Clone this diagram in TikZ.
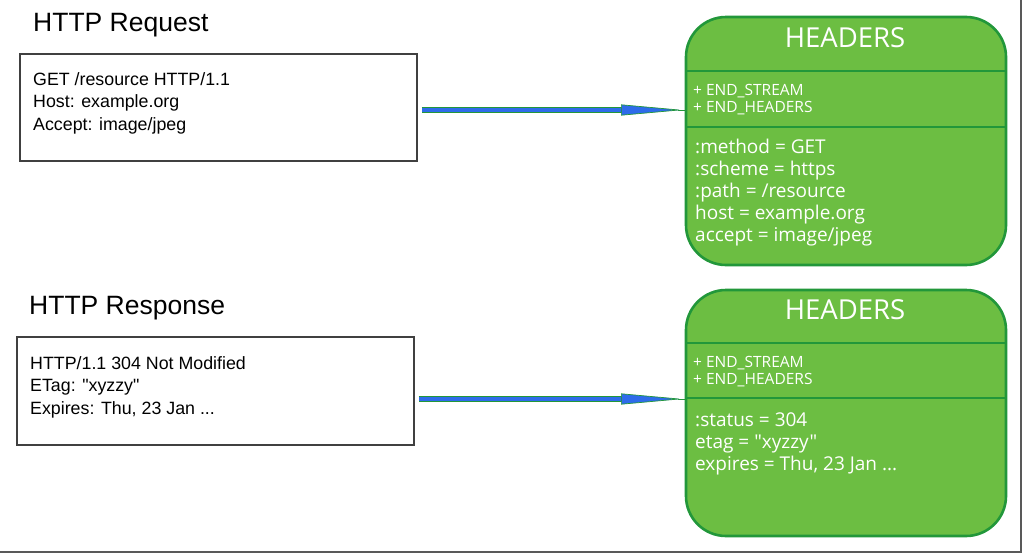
\documentclass[tikz,border=0pt]{standalone}
\usepackage{fontspec}
\setmainfont{Liberation Sans}
\newfontfamily\msgfont{Liberation Sans}
\newfontfamily\uifont{Open Sans}
\usepackage{tikz}
\usetikzlibrary{arrows.meta,positioning}
\definecolor{hdrgreen}{HTML}{6CBE42}
\definecolor{hdredge}{HTML}{22973A}
\definecolor{arrblue}{HTML}{2E6BEA}
\tikzset{
	msg_box/.style = {rectangle, draw=black!75, line width=1.2pt,
		minimum width=397pt, inner sep=0pt},% boite requete / reponse
	msg_title/.style = {anchor=base west, inner sep=0pt, font=\msgfont\fontsize{26.5}{30}\selectfont},
	msg_txt/.style = {anchor=west, align=left, inner sep=0pt,
		font=\msgfont\fontsize{17.8}{22.5}\selectfont},
	hdr_box/.style = {rectangle, rounded corners=40pt, fill=hdrgreen,
		draw=hdredge, line width=2.6pt, minimum width=320pt, inner sep=0pt},% trame HEADERS
	hdr_line/.style = {draw=hdredge, line width=1.6pt},
	hdr_title/.style = {white, inner sep=0pt, font=\uifont\fontsize{27.5}{30}\selectfont},
	hdr_flag/.style = {white, anchor=west, align=left, inner sep=0pt,
		font=\uifont\fontsize{15.5}{17.5}\selectfont},
	hdr_txt/.style = {white, anchor=west, align=left, inner sep=0pt,
		font=\uifont\fontsize{19}{22}\selectfont},
	arr_edge/.style = {draw=hdredge, line width=5.8pt},
	arr_core/.style = {draw=arrblue, line width=4pt,
		-{Triangle[length=62pt,width=11pt,fill=arrblue,color=hdredge,line width=0.7pt]}}
}

\begin{document}
\begin{tikzpicture}[x=1pt,y=-1pt]
\useasboundingbox (0,0) rectangle (1028,557);
% requete
\node [msg_title] (reqtitle) at (33,31) {HTTP Request};
\node [msg_box, minimum height=107pt] (req) at (218.5,107.5) {};
\node [msg_txt] (reqtxt) at (33,103) {GET /resource HTTP/1.1\\Host: example.org\\Accept: image/jpeg};
\node [hdr_box, minimum height=248pt] (hdr1) at (846,141) {};
\draw [hdr_line] (686,71) -- (1006,71);
\draw [hdr_line] (686,127) -- (1006,127);
\node [hdr_title] (hdr1title) at (845,38) {HEADERS};
\node [hdr_flag] (flags1) at (693,99.5) {+ END\_STREAM\\+ END\_HEADERS};
\node [hdr_txt] (fields1) at (695,193) {:method = GET\\:scheme = https\\:path = /resource\\host = example.org\\accept = image/jpeg};
% reponse
\node [msg_title] (resptitle) at (29,314) {HTTP Response};
\node [msg_box, minimum height=108pt] (resp) at (215.5,391) {};
\node [msg_txt] (resptxt) at (30,387) {HTTP/1.1 304 Not Modified\\ETag: "xyzzy"\\Expires: Thu, 23 Jan ...};
\node [hdr_box, minimum height=246pt] (hdr2) at (846,413) {};
\draw [hdr_line] (686,343) -- (1006,343);
\draw [hdr_line] (686,398) -- (1006,398);
\node [hdr_title] (hdr2title) at (845,310) {HEADERS};
\node [hdr_flag] (flags2) at (693,371.5) {+ END\_STREAM\\+ END\_HEADERS};
\node [hdr_txt] (fields2) at (695,443.5) {:status = 304\\etag = "xyzzy"\\expires = Thu, 23 Jan ...};
% fleches
\coordinate (in1) at (686,110);
\coordinate (in2) at (686,399);
\draw [arr_edge, shorten <=4pt, shorten >=60pt] (req.east |- in1) -- (in1);
\draw [hdredge, line width=0.8pt] (in1) -- ++(-8,0);
\draw [arr_core, shorten <=4.8pt, shorten >=3pt] (req.east |- in1) -- (in1);
\draw [arr_edge, shorten <=4pt, shorten >=60pt] (resp.east |- in2) -- (in2);
\draw [hdredge, line width=0.8pt] (in2) -- ++(-8,0);
\draw [arr_core, shorten <=4.8pt, shorten >=3pt] (resp.east |- in2) -- (in2);
% cadre
\draw [black!65, line width=1.5pt] (1021,0) -- (1021,552) -- (0,552);
\end{tikzpicture}
\end{document}
